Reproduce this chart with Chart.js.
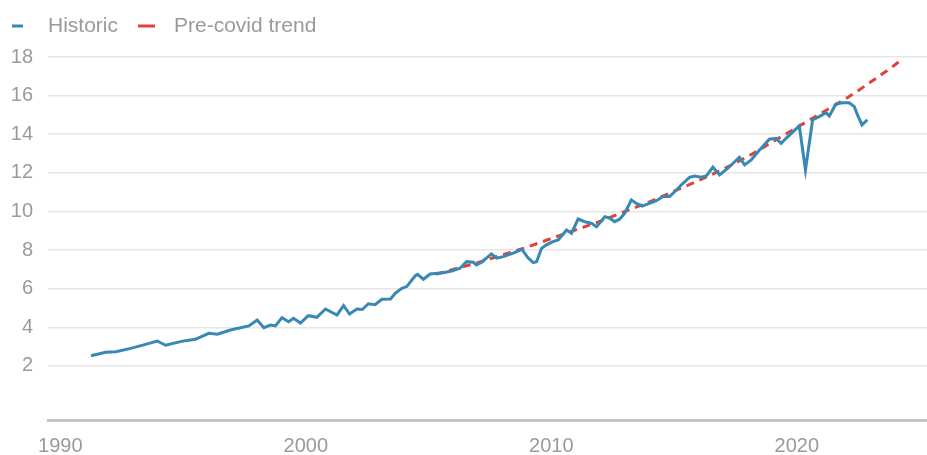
<!DOCTYPE html>
<html>
<head>
<meta charset="utf-8">
<script src="https://cdn.jsdelivr.net/npm/chart.js@4"></script>
<style>
    html, body { margin: 0; padding: 0; background: #fff; }
    #wrap { width: 927px; height: 455px; }
</style>
</head>
<body>
<div id="wrap"><canvas id="chart"></canvas></div>
<script>
// Historic series (year, value)
const histYears = [
    1991.25, 1991.85, 1992.26, 1992.87, 1993.4, 1993.95, 1994.29, 1994.9, 1995.1, 1995.5,
    1996.05, 1996.4, 1996.93, 1997.68, 1998.02, 1998.29, 1998.56, 1998.76, 1999.03, 1999.3,
    1999.5, 1999.78, 2000.1, 2000.45, 2000.8, 2001.27, 2001.54, 2001.78, 2002.08, 2002.3,
    2002.55, 2002.82, 2003.1, 2003.45, 2003.64, 2003.91, 2004.11, 2004.45, 2004.55, 2004.79,
    2005.06, 2005.6, 2005.94, 2006.28, 2006.55, 2006.82, 2006.95, 2007.16, 2007.56, 2007.77,
    2008.04, 2008.45, 2008.8, 2009.05, 2009.26, 2009.4, 2009.6, 2009.8, 2010.07, 2010.28,
    2010.62, 2010.82, 2011.09, 2011.36, 2011.63, 2011.84, 2012.18, 2012.38, 2012.58, 2012.78,
    2012.99, 2013.26, 2013.46, 2013.7, 2014.07, 2014.28, 2014.54, 2014.82, 2015.09, 2015.36,
    2015.63, 2015.83, 2016.1, 2016.31, 2016.58, 2016.85, 2017.19, 2017.66, 2017.87, 2018.14,
    2018.48, 2018.88, 2019.15, 2019.36, 2019.56, 2020.1, 2020.35, 2020.64, 2020.91, 2021.19,
    2021.32, 2021.59, 2021.86, 2022.13, 2022.34, 2022.47, 2022.65, 2022.87
];
const histValues = [
    2.53, 2.71, 2.74, 2.91, 3.09, 3.29, 3.07, 3.26, 3.31, 3.38,
    3.69, 3.64, 3.86, 4.07, 4.38, 3.98, 4.12, 4.07, 4.5, 4.29,
    4.47, 4.22, 4.6, 4.52, 4.95, 4.64, 5.12, 4.69, 4.95, 4.92,
    5.22, 5.17, 5.45, 5.47, 5.76, 6.02, 6.11, 6.66, 6.74, 6.49,
    6.76, 6.83, 6.92, 7.06, 7.4, 7.37, 7.23, 7.37, 7.8, 7.58,
    7.66, 7.84, 8.04, 7.6, 7.35, 7.4, 8.09, 8.27, 8.44, 8.52,
    9.04, 8.87, 9.61, 9.47, 9.39, 9.21, 9.73, 9.65, 9.47, 9.6,
    9.91, 10.6, 10.42, 10.28, 10.46, 10.56, 10.77, 10.77, 11.11, 11.46,
    11.77, 11.84, 11.77, 11.84, 12.29, 11.89, 12.24, 12.81, 12.41, 12.67,
    13.18, 13.74, 13.79, 13.53, 13.79, 14.43, 12.15, 14.74, 14.91, 15.12,
    14.95, 15.57, 15.63, 15.63, 15.43, 15.0, 14.48, 14.74
];

// Pre-covid trend (year, value)
const trendYears = [
    2005.3, 2006, 2007, 2008, 2009, 2010, 2011, 2012, 2013, 2014,
    2015, 2016, 2017, 2018, 2019, 2020, 2021, 2022, 2023, 2024, 2024.3
];
const trendValues = [
    6.75, 7.0, 7.35, 7.75, 8.15, 8.6, 9.05, 9.5, 10.0, 10.5,
    11.05, 11.6, 12.2, 12.85, 13.6, 14.35, 15.1, 15.85, 16.7, 17.6, 17.9
];

// Tick labels
const xTicks = [1990, 2000, 2010, 2020];
const yTicks = [2, 4, 6, 8, 10, 12, 14, 16, 18];

const BLUE = '#3789b4';
const RED = '#e2403a';
const TEXT = '#9a9a9a';
const FONT = "'Liberation Sans', Arial, sans-serif";

function points(xs, ys) {
    return xs.map((x, i) => ({ x: x, y: ys[i] }));
}

/**
 * Simple legend drawn on top: short line + label for each dataset
 */
const topLegend = {
    id: 'topLegend',
    afterDraw(chart) {
        const c = chart.ctx;
        let x = 12;
        const y = 26;
        c.save();
        c.font = '21px ' + FONT;
        c.textBaseline = 'middle';
        chart.data.datasets.forEach(ds => {
            const len = ds.borderDash ? 17 : 11;
            c.strokeStyle = ds.borderColor;
            c.lineWidth = 3;
            c.beginPath();
            c.moveTo(x, y);
            c.lineTo(x + len, y);
            c.stroke();
            c.fillStyle = TEXT;
            c.fillText(ds.label, x + 36, y);
            x += 36 + c.measureText(ds.label).width + 20;
        });
        c.restore();
    }
};

const ctx = document.getElementById('chart');

new Chart(ctx, {
    type: 'line',
    data: {
        datasets: [
            {
                label: 'Historic',
                data: points(histYears, histValues),
                borderColor: BLUE,
                borderWidth: 3,
                pointRadius: 0,
                tension: 0
            },
            {
                label: 'Pre-covid trend',
                data: points(trendYears, trendValues),
                borderColor: RED,
                borderWidth: 3,
                borderDash: [8, 6],
                pointRadius: 0,
                cubicInterpolationMode: 'monotone'
            }
        ]
    },
    options: {
        responsive: true,
        maintainAspectRatio: false,
        animation: false,
        layout: {
            padding: { left: 0, right: 0, top: 57, bottom: 0 }
        },
        plugins: {
            legend: { display: false },
            tooltip: { enabled: false }
        },
        scales: {
            x: {
                type: 'linear',
                min: 1989.5,
                max: 2025.3,
                afterBuildTicks: scale => {
                    scale.ticks = xTicks.map(v => ({ value: v }));
                },
                afterFit: scale => {
                    scale.height = 35;
                },
                ticks: {
                    color: TEXT,
                    padding: 16,
                    maxRotation: 0,
                    font: { family: FONT, size: 20, lineHeight: 1 },
                    callback: v => String(v)
                },
                grid: {
                    display: false,
                    drawTicks: false
                },
                border: {
                    display: true,
                    color: '#c4c4c4',
                    width: 3
                }
            },
            y: {
                min: -0.8,
                max: 18,
                afterBuildTicks: scale => {
                    scale.ticks = yTicks.map(v => ({ value: v }));
                },
                afterFit: scale => {
                    scale.width = 48;
                },
                ticks: {
                    color: TEXT,
                    padding: 15,
                    font: { family: FONT, size: 20 }
                },
                grid: {
                    color: '#e6e6e6',
                    lineWidth: 1.5,
                    drawTicks: false
                },
                border: { display: false }
            }
        }
    },
    plugins: [topLegend]
});
</script>
</body>
</html>
